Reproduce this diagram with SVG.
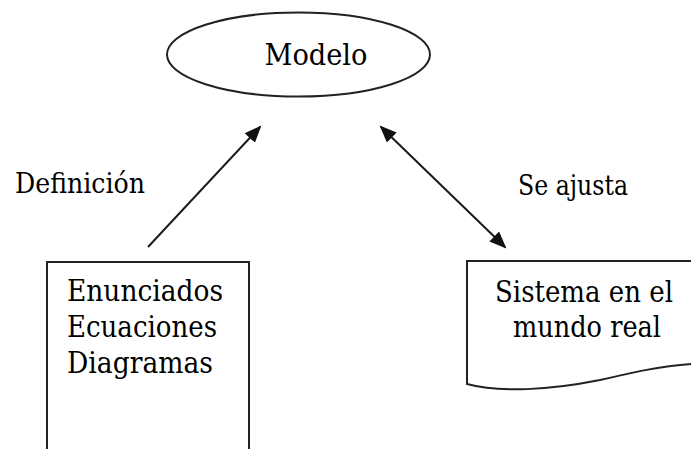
<svg xmlns="http://www.w3.org/2000/svg" width="691" height="449" viewBox="0 0 691 449">
<style>
.shape{fill:#fff;stroke:#222;stroke-width:2}
.lbl{fill:#000;font-family:"DejaVu Serif",serif}
.node{font-size:30.5px}
.edge{font-size:28px}
.conn{stroke:#1a1a1a;stroke-width:2;fill:none}
</style>
<defs>
<marker id="ah" markerUnits="userSpaceOnUse" markerWidth="18" markerHeight="16" viewBox="0 0 18 16" refX="15" refY="8" orient="auto-start-reverse">
<path d="M0,1 L17,8 L0,15 Z" fill="#111"/>
</marker>
</defs>
<rect width="691" height="449" fill="#fff"/>
<g id="modelo">
<ellipse class="shape" cx="298.5" cy="54.5" rx="131.5" ry="42"/>
<text class="lbl node" x="316" y="65" text-anchor="middle" textLength="103" lengthAdjust="spacingAndGlyphs">Modelo</text>
</g>
<g id="enunciados">
<rect class="shape" x="47" y="262" width="202" height="200"/>
<text class="lbl node" x="67" y="300.5" textLength="156" lengthAdjust="spacingAndGlyphs">Enunciados</text>
<text class="lbl node" x="67" y="337" textLength="150" lengthAdjust="spacingAndGlyphs">Ecuaciones</text>
<text class="lbl node" x="67" y="373" textLength="146" lengthAdjust="spacingAndGlyphs">Diagramas</text>
</g>
<g id="sistema">
<path class="shape" d="M467,261 L692,261 L692,364 C660,366 630,373 600,380 C550,390 500,393 467,384 Z"/>
<text class="lbl node" x="584" y="302" text-anchor="middle" textLength="178" lengthAdjust="spacingAndGlyphs">Sistema en el</text>
<text class="lbl node" x="587" y="337" text-anchor="middle" textLength="148" lengthAdjust="spacingAndGlyphs">mundo real</text>
</g>
<g id="connectors">
<line class="conn" x1="148" y1="247" x2="260" y2="127" marker-end="url(#ah)"/>
<line class="conn" x1="381" y1="127" x2="505" y2="247" marker-start="url(#ah)" marker-end="url(#ah)"/>
<text class="lbl edge" x="15" y="193" textLength="130" lengthAdjust="spacingAndGlyphs">Definición</text>
<text class="lbl edge" x="518" y="195" textLength="110" lengthAdjust="spacingAndGlyphs">Se ajusta</text>
</g>
</svg>
